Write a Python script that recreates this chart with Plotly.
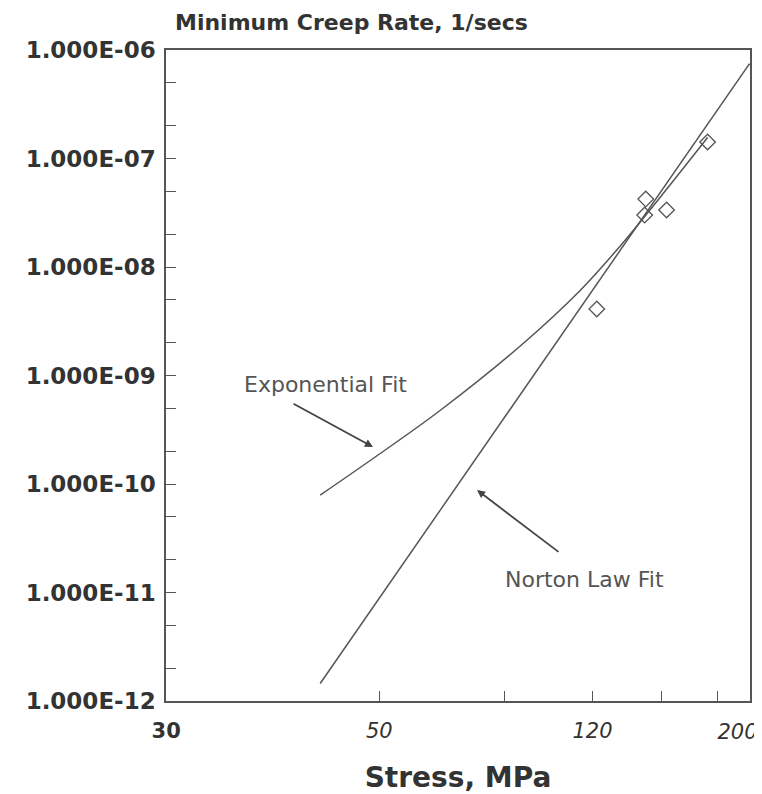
import math
import plotly.graph_objects as go

# ---- data ----
stress_data = [121.7, 142.2, 142.7, 152.7, 174.5]          # MPa
rate_data = [4.1e-9, 3.01e-8, 4.23e-8, 3.35e-8, 1.42e-7]   # 1/s

norton_stress = [49.5, 200.0]
norton_rate = [1.45e-12, 7.5e-7]

expo_stress = [49.5, 60.1, 73.1, 94.7, 115.2, 131.1, 149.3, 174.5]
expo_rate = [7.9e-11, 1.9e-10, 4.76e-10, 1.85e-9, 6.05e-9, 1.54e-8, 4.33e-8, 1.56e-7]

y_tickvals = [1e-12, 1e-11, 1e-10, 1e-9, 1e-8, 1e-7, 1e-6]
y_ticktext = ["1.000E-12", "1.000E-11", "1.000E-10", "1.000E-09",
              "1.000E-08", "1.000E-07", "1.000E-06"]
x_tickvals = [30, 60, 90, 120, 150, 180, 200]
x_ticktext = ["<b>30</b>", "<i>50</i>", "", "<i>120</i>", "", "", ""]
x_end_tickvals = [200]
x_end_ticktext = ["<i>200</i>"]

LINE = "#555555"
TEXT = "#333333"

# page has an 8px body margin; figure is sized so the page is filled
FIG_W, FIG_H = 754, 786
PL, PR, PT, PB = 166, 750, 50, 701   # plot area in page pixels
PW, PH = PR - PL, PB - PT
X_RANGE = [math.log10(29.98), math.log10(200.3)]


def px(xp):
    return (xp - PL) / PW


def py(yp):
    return (PB - yp) / PH


fig = go.Figure()
fig.add_trace(go.Scatter(x=norton_stress, y=norton_rate, mode="lines", xaxis="x2",
                         line=dict(color=LINE, width=1.5), showlegend=False))
fig.add_trace(go.Scatter(x=expo_stress, y=expo_rate, mode="lines",
                         line=dict(color=LINE, width=1.5, shape="spline", smoothing=1.0),
                         showlegend=False))
fig.add_trace(go.Scatter(x=stress_data, y=rate_data, mode="markers",
                         marker=dict(symbol="diamond-open", size=12, color=LINE,
                                     line=dict(color=LINE, width=1.3)),
                         showlegend=False))

tick_font = dict(family="DejaVu Sans", size=21, color=TEXT)

fig.update_layout(
    width=FIG_W, height=FIG_H,
    margin=dict(l=PL - 8, r=FIG_W - (PR - 8), t=PT - 8, b=FIG_H - (PB - 8)),
    paper_bgcolor="white", plot_bgcolor="white",
    showlegend=False,
    xaxis=dict(
        type="log", range=X_RANGE,
        automargin=False,
        showline=True, linecolor=LINE, linewidth=1.5, mirror=True,
        ticks="inside", ticklen=10, tickcolor=LINE, tickwidth=1.3,
        tickmode="array", tickvals=x_tickvals, ticktext=x_ticktext,
        tickfont=tick_font,
        ticklabelstandoff=10, ticklabeloverflow="allow",
        showgrid=False, zeroline=False,
        title=dict(text="<b>Stress, MPa</b>", standoff=25,
                   font=dict(family="DejaVu Sans", size=28, color=TEXT)),
    ),
    xaxis2=dict(
        type="log", range=X_RANGE, overlaying="x", anchor="y", side="bottom",
        automargin=False, showline=False, ticks="",
        tickmode="array", tickvals=x_end_tickvals, ticktext=x_end_ticktext,
        tickfont=tick_font,
        ticklabelstandoff=16, ticklabelshift=-12, ticklabeloverflow="allow",
        showgrid=False, zeroline=False,
    ),
    yaxis=dict(
        type="log", range=[-12, -6],
        automargin=False,
        showline=True, linecolor=LINE, linewidth=1.5, mirror=True,
        ticks="inside", ticklen=10, tickcolor=LINE, tickwidth=1.3,
        tickmode="array", tickvals=y_tickvals, ticktext=y_ticktext,
        tickfont=dict(family="DejaVu Sans", size=23, color=TEXT, weight="bold"),
        ticklabelstandoff=4,
        minor=dict(ticks="inside", ticklen=10, tickcolor=LINE, tickwidth=1.2,
                   showgrid=False),
        showgrid=False, zeroline=False,
    ),
    annotations=[
        dict(text="<b>Minimum Creep Rate, 1/secs</b>", xref="paper", yref="paper",
             x=px(173), y=py(22), xanchor="left", yanchor="middle",
             showarrow=False, font=dict(family="DejaVu Sans", size=22, color=TEXT)),
        dict(text="Exponential Fit", xref="paper", yref="paper",
             x=px(242), y=py(384.5), xanchor="left", yanchor="middle",
             showarrow=False, font=dict(family="DejaVu Sans", size=22, color="#555555")),
        dict(text="Norton Law Fit", xref="paper", yref="paper",
             x=px(503), y=py(579), xanchor="left", yanchor="middle",
             showarrow=False, font=dict(family="DejaVu Sans", size=22, color="#555555")),
        dict(text="", xref="paper", yref="paper",
             x=px(373), y=py(447), ax=-81, ay=-44,
             showarrow=True, arrowhead=2, arrowsize=0.9, arrowwidth=1.8, arrowcolor="#444444"),
        dict(text="", xref="paper", yref="paper",
             x=px(477), y=py(490), ax=83, ay=63,
             showarrow=True, arrowhead=2, arrowsize=0.9, arrowwidth=1.8, arrowcolor="#444444"),
    ],
)

fig.write_html("out.html")
